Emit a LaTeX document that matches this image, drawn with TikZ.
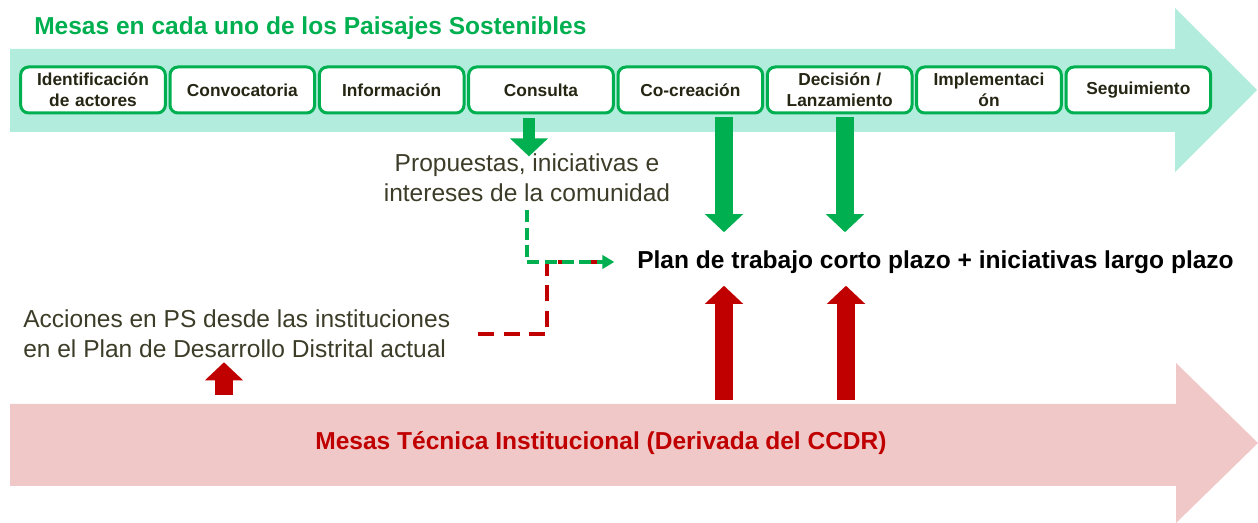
\documentclass[tikz,border=0pt]{standalone}
\usepackage{fontspec}
\setmainfont{Liberation Sans}
\definecolor{psGreen}{RGB}{0,176,80}
\definecolor{psMint}{RGB}{178,236,220}
\definecolor{ccdrRed}{RGB}{192,0,0}
\definecolor{ccdrPink}{RGB}{240,200,200}
\definecolor{textDark}{RGB}{60,60,40}
\definecolor{boxText}{RGB}{38,38,20}
\usetikzlibrary{positioning,arrows.meta}

\begin{document}
\begin{tikzpicture}[
  x=0.75pt, y=-0.75pt,
  node distance=3.5pt,
  etapa/.style={
    draw=psGreen, fill=white, line width=2.25pt, rounded corners=6pt,
    outer sep=0pt, text width=104pt, align=center, text=boxText,
    font=\bfseries\fontsize{13}{15.5}\selectfont,
    minimum width=108.5pt, minimum height=34.5pt, inner sep=1pt
  },
  texto/.style={font=\fontsize{18.4}{22.5}\selectfont, text=textDark, inner sep=0pt},
  titulo/.style={font=\bfseries\fontsize{18.4}{22.5}\selectfont, inner sep=0pt},
  bloqueVerde/.style={draw=psGreen, line width=13.5pt, -{Triangle[length=13.5pt, width=27.75pt]}},
  bloqueRojo/.style={draw=ccdrRed, line width=13.5pt, -{Triangle[length=13.5pt, width=27.75pt]}},
  flechaVerde/.style={draw=psGreen, line width=2.6pt, dash pattern=on 9pt off 4pt,
    -{Triangle[length=9pt, width=10pt]}},
  lineaRoja/.style={draw=ccdrRed, line width=2.6pt, dash pattern=on 12pt off 7pt}
]
  \useasboundingbox (0,0) rectangle (1258,523);
  % bandas
  \fill[psMint] (10,49) -- (1175,49) -- (1175,8) -- (1257,90) -- (1175,172)
    -- (1175,132) -- (10,132) -- cycle;
  \fill[ccdrPink] (10,404) -- (1176,404) -- (1176,363) -- (1258,443) -- (1176,523)
    -- (1176,486) -- (10,486) -- cycle;
  \coordinate (ccdrtop) at (0,404);

  \node[titulo, text=psGreen, anchor=west] (mesasps) at (34,28) {Mesas en cada uno de los Paisajes Sostenibles};

  % etapas
  \node[etapa] (ident) at (93,90) {Identificación\\de actores};
  \node[etapa, right=of ident] (convoc) {Convocatoria};
  \node[etapa, right=of convoc] (info) {Información};
  \node[etapa, right=of info] (consulta) {Consulta};
  \node[etapa, right=of consulta] (cocrea) {Co-creación};
  \node[etapa, right=of cocrea] (decision) {Decisión /\\Lanzamiento};
  \node[etapa, right=of decision] (implem) {Implementaci\\ón};
  \node[etapa, right=of implem] (seguim) {Seguimiento};

  \node[texto, align=center] (prop) at (527,178) {Propuestas, iniciativas e\\intereses de la comunidad};
  \node[titulo, anchor=west] (plan) at (637,262) {Plan de trabajo corto plazo + iniciativas largo plazo};
  \node[texto, align=left, anchor=west] (acc) at (23,334) {Acciones en PS desde las instituciones\\en el Plan de Desarrollo Distrital actual};
  \node[titulo, text=ccdrRed] (ccdr) at (601,443) {Mesas Técnica Institucional (Derivada del CCDR)};

  % conectores
  \draw[bloqueVerde, line width=9pt, shorten <=3.75pt, shorten >=-2pt] (529,0 |- consulta.south) -- (529,0 |- prop.north);
  \draw[bloqueVerde, shorten <=3pt, shorten >=13.5pt] (724,0 |- cocrea.south) -- (724,0 |- plan.north);
  \draw[bloqueVerde, shorten <=3pt, shorten >=13.5pt] (845,0 |- decision.south) -- (845,0 |- plan.north);
  \draw[bloqueRojo, shorten <=3pt, shorten >=9pt] (724,0 |- ccdrtop) -- (724,0 |- plan.south);
  \draw[bloqueRojo, shorten <=3pt, shorten >=9pt] (846,0 |- ccdrtop) -- (846,0 |- plan.south);
  \draw[bloqueRojo, shorten <=6.75pt, shorten >=3pt] (224,0 |- ccdrtop) -- (224,0 |- acc.south);
  \draw[lineaRoja, shorten <=21pt, shorten >=28.5pt] (acc.east) -| (547,0 |- plan.west) -- (plan.west);
  \draw[flechaVerde, shorten <=6pt, shorten >=17pt] (prop.south) |- (plan.west);
\end{tikzpicture}
\end{document}
